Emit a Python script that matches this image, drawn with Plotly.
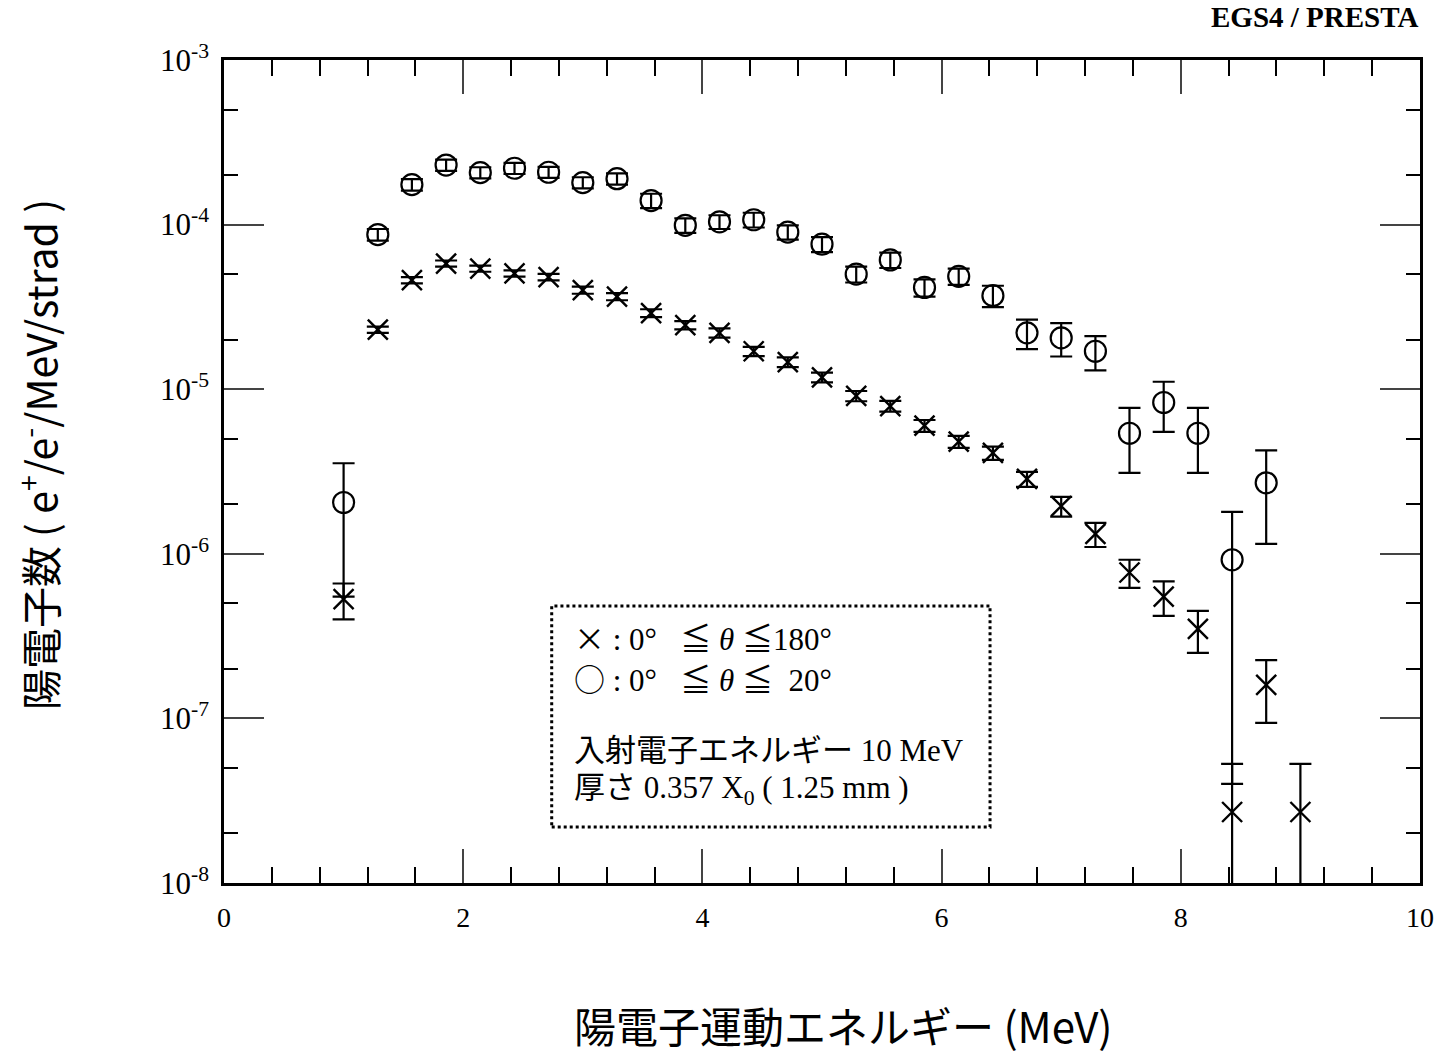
import plotly.graph_objects as go

# ---- data ----
energy_all = [1.0, 1.286, 1.571, 1.857, 2.143, 2.429, 2.714, 3.0, 3.286, 3.571,
              3.857, 4.143, 4.429, 4.714, 5.0, 5.286, 5.571, 5.857, 6.143, 6.429,
              6.714, 7.0, 7.286, 7.571, 7.857, 8.143, 8.429, 8.714, 9.0]
yield_all = [5.3e-7, 2.3e-5, 4.6e-5, 5.8e-5, 5.4e-5, 5.05e-5, 4.8e-5, 4.0e-5, 3.65e-5, 2.9e-5,
             2.45e-5, 2.2e-5, 1.7e-5, 1.46e-5, 1.18e-5, 9.1e-6, 7.9e-6, 6.0e-6, 4.8e-6, 4.1e-6,
             2.85e-6, 1.95e-6, 1.32e-6, 7.7e-7, 5.5e-7, 3.5e-7, 2.7e-8, 1.6e-7, 2.7e-8]
err_all = [1.3e-7, 1.0e-6, 2.0e-6, 2.5e-6, 2.3e-6, 2.2e-6, 2.2e-6, 2.0e-6, 1.8e-6, 1.6e-6,
           1.4e-6, 1.4e-6, 1.1e-6, 1.0e-6, 0.8e-6, 0.65e-6, 0.6e-6, 0.5e-6, 0.4e-6, 0.38e-6,
           0.3e-6, 0.27e-6, 0.22e-6, 1.5e-7, 1.3e-7, 1.0e-7, 2.6e-8, 6.6e-8, 2.6e-8]

energy_fwd = [1.0, 1.286, 1.571, 1.857, 2.143, 2.429, 2.714, 3.0, 3.286, 3.571,
              3.857, 4.143, 4.429, 4.714, 5.0, 5.286, 5.571, 5.857, 6.143, 6.429,
              6.714, 7.0, 7.286, 7.571, 7.857, 8.143, 8.429, 8.714]
yield_fwd = [2.05e-6, 8.7e-5, 1.75e-4, 2.3e-4, 2.07e-4, 2.2e-4, 2.08e-4, 1.8e-4, 1.9e-4, 1.4e-4,
             9.9e-5, 1.04e-4, 1.07e-4, 9.0e-5, 7.6e-5, 5.0e-5, 6.1e-5, 4.15e-5, 4.85e-5, 3.7e-5,
             2.2e-5, 2.05e-5, 1.7e-5, 5.4e-6, 8.3e-6, 5.4e-6, 9.2e-7, 2.7e-6]
err_fwd = [1.5e-6, 0.7e-5, 1.4e-5, 1.8e-5, 1.6e-5, 1.7e-5, 1.6e-5, 1.4e-5, 1.5e-5, 1.4e-5,
           1.0e-5, 1.0e-5, 1.1e-5, 0.9e-5, 0.8e-5, 0.55e-5, 0.65e-5, 0.5e-5, 0.55e-5, 0.55e-5,
           0.45e-5, 0.47e-5, 0.4e-5, 2.3e-6, 2.8e-6, 2.3e-6, 8.8e-7, 1.55e-6]

x_ticks = [0, 2, 4, 6, 8, 10]
y_ticks = [1e-8, 1e-7, 1e-6, 1e-5, 1e-4, 1e-3]
y_ticktext = ["10<sup>-8</sup>", "10<sup>-7</sup>", "10<sup>-6</sup>",
              "10<sup>-5</sup>", "10<sup>-4</sup>", "10<sup>-3</sup>"]

SERIF = "Liberation Serif, Noto Sans CJK JP, serif"
JP = "Noto Sans CJK JP, Liberation Serif, serif"

fig = go.Figure()
fig.add_trace(go.Scatter(
    x=energy_all, y=yield_all, mode="markers",
    marker=dict(symbol="x-thin-open", size=20, color="black", line=dict(width=2.4, color="black")),
    error_y=dict(type="data", array=err_all, visible=True, color="black", thickness=2.2, width=11),
    showlegend=False))
fig.add_trace(go.Scatter(
    x=energy_fwd, y=yield_fwd, mode="markers",
    marker=dict(symbol="circle-open", size=21, color="black", line=dict(width=2.2, color="black")),
    error_y=dict(type="data", array=err_fwd, visible=True, color="black", thickness=2.2, width=11),
    showlegend=False))

fig.update_xaxes(
    range=[0, 10], tickvals=x_ticks, ticks="inside", ticklen=34, tickwidth=2,
    showline=True, linewidth=2.5, linecolor="black", mirror="allticks",
    showgrid=False, zeroline=False, ticklabelstandoff=8,
    tickfont=dict(family=SERIF, size=28, color="black"),
    minor=dict(dtick=0.4, ticks="inside", ticklen=16, tickwidth=1.5, tickcolor="black", showgrid=False))
fig.update_yaxes(
    type="log", range=[-8, -3], tickvals=y_ticks, ticktext=y_ticktext,
    ticks="inside", ticklen=40, tickwidth=2,
    showline=True, linewidth=2.5, linecolor="black", mirror="allticks",
    showgrid=False, zeroline=False, ticklabelstandoff=6,
    tickfont=dict(family=SERIF, size=31, color="black"),
    minor=dict(ticks="inside", ticklen=14, tickwidth=1.5, tickcolor="black", showgrid=False))

SYM = '<span style="font-family:Noto Sans CJK JP">{}</span>'
annotations = [
    dict(text="陽電子運動エネルギー (MeV)", x=0.5176, y=-0.172, xref="paper", yref="paper",
         xanchor="center", yanchor="middle", showarrow=False,
         font=dict(family=JP, size=42, color="black")),
    dict(text="陽電子数 ( e<sup>+</sup>/e<sup>-</sup>/MeV/strad )", x=-0.1555, y=0.52,
         xref="paper", yref="paper", xanchor="center", yanchor="middle",
         textangle=-90, showarrow=False,
         font=dict(family=JP, size=41, color="black")),
    dict(text="<b>EGS4 / PRESTA</b>", x=1.0, y=1.052, xref="paper", yref="paper",
         xanchor="right", yanchor="middle", showarrow=False,
         font=dict(family=SERIF, size=29, color="black")),
    dict(text=SYM.format("×") + "\u00a0:\u00a00°\u00a0\u00a0\u00a0≦\u00a0<i>θ</i>\u00a0≦180°",
         x=0.291, y=0.299, xref="paper", yref="paper", xanchor="left", yanchor="middle",
         showarrow=False, font=dict(family=SERIF, size=31, color="black")),
    dict(text=SYM.format("○") + "\u00a0:\u00a00°\u00a0\u00a0\u00a0≦\u00a0<i>θ</i>\u00a0≦\u00a0\u00a020°",
         x=0.291, y=0.250, xref="paper", yref="paper", xanchor="left", yanchor="middle",
         showarrow=False, font=dict(family=SERIF, size=31, color="black")),
    dict(text="入射電子エネルギー 10 MeV", x=0.291, y=0.1616,
         xref="paper", yref="paper", xanchor="left", yanchor="middle", showarrow=False,
         font=dict(family=SERIF, size=31, color="black")),
    dict(text="厚さ 0.357 X<sub>0</sub> ( 1.25 mm )", x=0.291, y=0.113,
         xref="paper", yref="paper", xanchor="left", yanchor="middle", showarrow=False,
         font=dict(family=SERIF, size=31, color="black")),
]

fig.update_layout(
    width=1450, height=1060,
    margin=dict(l=224, r=30, t=60, b=177),
    paper_bgcolor="white", plot_bgcolor="white",
    annotations=annotations,
    shapes=[dict(type="rect", xref="paper", yref="paper", x0=0.274, x1=0.6405, y0=0.068, y1=0.3366,
                 line=dict(color="black", width=3, dash="dot"))],
)

fig.write_html("out.html")
